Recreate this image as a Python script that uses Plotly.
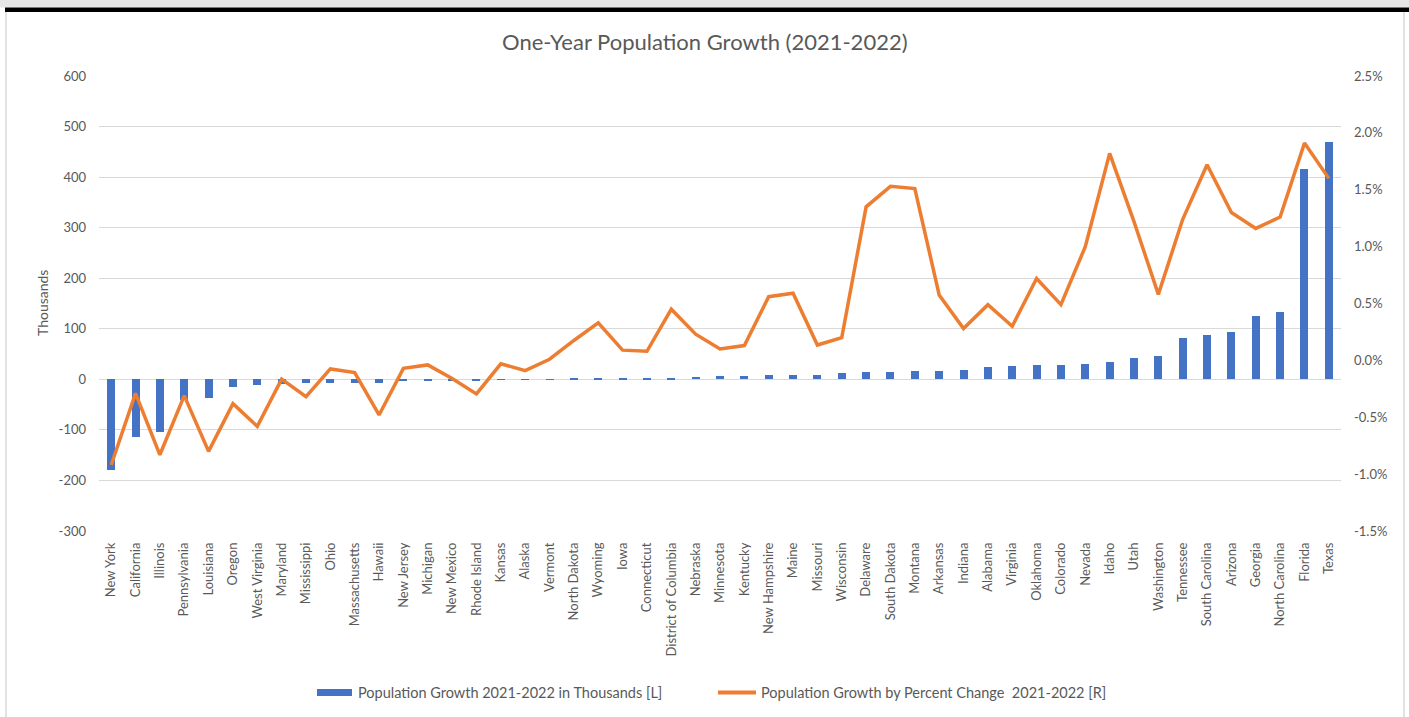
import plotly.graph_objects as go

# One-year population change by state, 2021-2022
states = [
    "New York", "California", "Illinois", "Pennsylvania", "Louisiana", "Oregon",
    "West Virginia", "Maryland", "Mississippi", "Ohio", "Massachusetts", "Hawaii",
    "New Jersey", "Michigan", "New Mexico", "Rhode Island", "Kansas", "Alaska",
    "Vermont", "North Dakota", "Wyoming", "Iowa", "Connecticut",
    "District of Columbia", "Nebraska", "Minnesota", "Kentucky", "New Hampshire",
    "Maine", "Missouri", "Wisconsin", "Delaware", "South Dakota", "Montana",
    "Arkansas", "Indiana", "Alabama", "Virginia", "Oklahoma", "Colorado", "Nevada",
    "Idaho", "Utah", "Washington", "Tennessee", "South Carolina", "Arizona",
    "Georgia", "North Carolina", "Florida", "Texas",
]

growth_thousands = [
    -180, -114, -104, -40, -37, -16,
    -10.5, -10, -8, -7, -7, -6.5,
    -4, -2.7, -2.5, -2.5, -0.6, -0.5,
    0.1, 0.8, 1.5, 1.6, 1.6,
    1.6, 4.5, 6, 6, 8,
    8, 8, 12.5, 14.5, 14.5, 16,
    17, 19, 23.5, 25.5, 28, 28.3, 30.3,
    33.6, 42, 45.4, 82, 88, 93.6,
    125, 133.5, 416, 469,
]

growth_pct = [
    -0.92, -0.29, -0.83, -0.31, -0.80, -0.38,
    -0.58, -0.165, -0.32, -0.075, -0.107, -0.48,
    -0.07, -0.04, -0.16, -0.295, -0.03, -0.09,
    0.01, 0.175, 0.33, 0.09, 0.08,
    0.45, 0.23, 0.10, 0.13, 0.56,
    0.59, 0.135, 0.20, 1.35, 1.53, 1.51,
    0.575, 0.28, 0.49, 0.30, 0.72, 0.49, 1.00,
    1.82, 1.22, 0.58, 1.24, 1.72, 1.30,
    1.16, 1.26, 1.91, 1.60,
]

left_ticks = [-300, -200, -100, 0, 100, 200, 300, 400, 500, 600]
left_tick_text = ["-300", "-200", "-100", "0", "100", "200", "300", "400", "500", "600"]
right_ticks = [-1.5, -1.0, -0.5, 0.0, 0.5, 1.0, 1.5, 2.0, 2.5]
right_tick_text = ["-1.5%", "-1.0%", "-0.5%", "0.0%", "0.5%", "1.0%", "1.5%", "2.0%", "2.5%"]

title_text = "One-Year Population Growth (2021-2022)"
bar_name = "Population Growth 2021-2022 in Thousands [L]"
line_name = "Population Growth by Percent Change&nbsp; 2021-2022 [R]"

BLUE = "#4472C4"
ORANGE = "#ED7D31"
TEXT = "#595959"
GRID = "#D9D9D9"
FONT = "Lato, 'Open Sans', sans-serif"

W, H = 1409, 717
L, R, T, B = 99, 68, 76, 186
PW, PH = W - L - R, H - T - B


def px_x(p):
    return (p - L) / PW


def px_y(p):
    return (H - B - p) / PH


fig = go.Figure()
fig.add_trace(go.Bar(
    x=states, y=growth_thousands, name=bar_name,
    marker=dict(color=BLUE, line=dict(width=0)), width=0.33,
    yaxis="y", showlegend=False,
))
fig.add_trace(go.Scatter(
    x=states, y=growth_pct, name=line_name, mode="lines",
    line=dict(color=ORANGE, width=3.5), yaxis="y2", showlegend=False,
))

shapes = [
    # window chrome across the top
    dict(type="rect", xref="paper", yref="paper", x0=px_x(0), x1=px_x(W),
         y0=px_y(7.5), y1=px_y(0), fillcolor="#E6E6E6", line=dict(width=0), layer="below"),
    dict(type="rect", xref="paper", yref="paper", x0=px_x(5), x1=px_x(W),
         y0=px_y(12), y1=px_y(7.5), fillcolor="#000000", line=dict(width=0), layer="below"),
    # chart frame
    dict(type="line", xref="paper", yref="paper", x0=px_x(6), x1=px_x(6),
         y0=px_y(12), y1=px_y(H), line=dict(color=GRID, width=1.5)),
    dict(type="line", xref="paper", yref="paper", x0=px_x(1404), x1=px_x(1404),
         y0=px_y(12), y1=px_y(H), line=dict(color=GRID, width=1.5)),
    # legend keys
    dict(type="rect", xref="paper", yref="paper", x0=px_x(317), x1=px_x(352),
         y0=px_y(696), y1=px_y(689), fillcolor=BLUE, line=dict(width=0)),
    dict(type="line", xref="paper", yref="paper", x0=px_x(718), x1=px_x(756),
         y0=px_y(692.5), y1=px_y(692.5), line=dict(color=ORANGE, width=4)),
]

annotations = [
    dict(text=title_text, xref="paper", yref="paper", x=px_x(705), y=px_y(41),
         xanchor="center", yanchor="middle", showarrow=False,
         font=dict(family=FONT, size=22, color=TEXT)),
    dict(text="Thousands", xref="paper", yref="paper", x=px_x(42), y=px_y(303),
         xanchor="center", yanchor="middle", showarrow=False, textangle=-90,
         font=dict(family=FONT, size=14, color=TEXT)),
    dict(text=bar_name, xref="paper", yref="paper", x=px_x(356), y=px_y(692),
         xanchor="left", yanchor="middle", showarrow=False,
         font=dict(family=FONT, size=14.5, color=TEXT)),
    dict(text=line_name, xref="paper", yref="paper", x=px_x(759), y=px_y(692),
         xanchor="left", yanchor="middle", showarrow=False,
         font=dict(family=FONT, size=14.5, color=TEXT)),
]

fig.update_layout(
    width=W, height=H,
    margin=dict(l=L, r=R, t=T, b=B, autoexpand=False),
    paper_bgcolor="white", plot_bgcolor="white",
    font=dict(family=FONT, size=13, color=TEXT),
    showlegend=False,
    bargap=0,
    xaxis=dict(
        type="category", tickangle=-90, showgrid=False, showline=False,
        zeroline=False, ticks="", ticklabelstandoff=8,
        tickfont=dict(family=FONT, size=13, color=TEXT),
    ),
    yaxis=dict(
        range=[-300, 600], tickvals=left_ticks, ticktext=left_tick_text,
        showgrid=True, gridcolor=GRID, gridwidth=1, zeroline=False,
        showline=False, ticks="", ticklabelstandoff=12,
        tickfont=dict(family=FONT, size=13, color=TEXT),
    ),
    yaxis2=dict(
        range=[-1.5, 2.5], tickvals=right_ticks, ticktext=right_tick_text,
        overlaying="y", side="right", showgrid=False, zeroline=False,
        showline=False, ticks="", ticklabelstandoff=12,
        tickfont=dict(family=FONT, size=13, color=TEXT),
    ),
    shapes=shapes,
    annotations=annotations,
)

fig.write_html("out.html")
